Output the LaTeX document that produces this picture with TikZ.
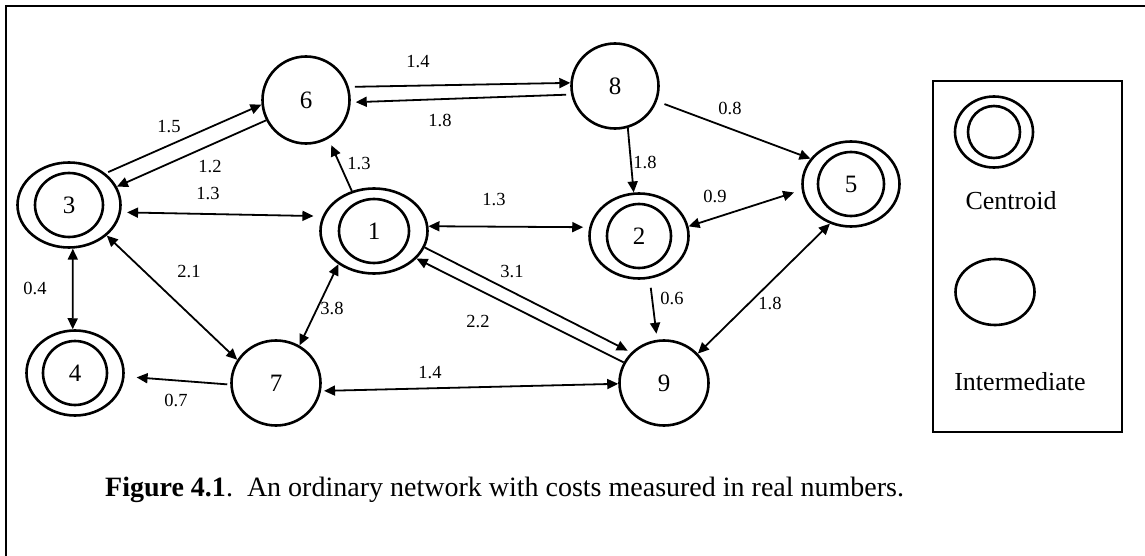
\documentclass[tikz,border=0pt]{standalone}
\usepackage{fontspec}
\setmainfont{Liberation Serif}
\usetikzlibrary{arrows.meta,shapes.geometric}
\tikzset{
  vert/.style={ellipse,draw,line width=2.6pt,inner sep=0pt,font=\fontsize{25}{29}\selectfont},
  cent/.style 2 args={vert,path picture={\draw[line width=2.6pt] (path picture bounding box.center) ellipse (#1pt and #2pt);}},
  arr/.style={line width=1.8pt,-{Triangle[length=11pt,width=10pt]}},
  darr/.style={line width=1.8pt,{Triangle[length=11pt,width=10pt]}-{Triangle[length=11pt,width=10pt]}},
  lab/.style={font=\fontsize{18.5}{20}\selectfont,inner sep=0pt},
  leg/.style={font=\fontsize{26}{30}\selectfont,inner sep=0pt},
  legbox/.style={draw,line width=2.6pt},
}
\begin{document}
\begin{tikzpicture}[x=1pt,y=-1pt]
  \useasboundingbox (0,0) rectangle (1145,556);
  \draw[legbox] (6,6) rectangle (1160,570);
  % centroids
  \node[cent={34}{32},minimum width=103pt,minimum height=85pt] (n3) at (69,205) {3};
  \node[cent={35}{32},minimum width=107pt,minimum height=85pt] (n1) at (374,231) {1};
  \node[cent={32}{32},minimum width=99pt,minimum height=85pt] (n2) at (639,236) {2};
  \node[cent={33}{32},minimum width=97pt,minimum height=85pt] (n5) at (851,184) {5};
  \node[cent={32}{32},minimum width=97pt,minimum height=85pt] (n4) at (75,373) {4};
  % intermediates
  \node[vert,minimum width=87pt,minimum height=87pt] (n6) at (306,100) {6};
  \node[vert,minimum width=87pt,minimum height=85pt] (n8) at (615,86) {8};
  \node[vert,minimum width=89pt,minimum height=85pt] (n7) at (276,383) {7};
  \node[vert,minimum width=89pt,minimum height=85pt] (n9) at (664,383) {9};
  % links
  \draw[arr,shorten <=3pt] (n3.41) -- (n6.186);
  \draw[arr] (n6.207) -- (n3.21);
  \draw[darr,shorten <=6pt,shorten >=9pt] (n3.-8) -- (n1.164);
  \draw[arr,shorten >=7pt] (n1.119) -- (n6.-60);
  \draw[arr,shorten <=6pt] (n6.17) -- (n8.176);
  \draw[arr,shorten <=5pt,shorten >=5pt] (n8.191) -- (n6.-3);
  \draw[arr,shorten <=8pt] (n8.-20) -- (n5.148);
  \draw[arr] (n8.-73) -- (n2.97);
  \draw[darr,shorten >=6pt] (n1.5) -- (n2.170);
  \draw[darr,shorten >=8pt] (n2.11) -- (n5.187);
  \draw[arr,shorten <=9pt,shorten >=6pt] (n2.-76) -- (n9.99);
  \draw[darr] (n5.242) -- (n9.41);
  \draw[arr,shorten >=4pt] (n1.-18) -- (n9.137);
  \draw[arr] (n9.153) -- (n1.-33);
  \draw[darr,shorten <=3pt] (n7.-10) -- (n9.181);
  \draw[darr] (n1.223) -- (n7.58);
  \draw[darr] (n3.-39) -- (n7.149);
  \draw[darr] (n3.-85) -- (n4.93);
  \draw[arr,shorten <=3pt,shorten >=12pt] (n7.182) -- (n4.-4);
  % costs
  \node[lab] (l36) at (169,127) {1.5};
  \node[lab] (l63) at (210,167) {1.2};
  \node[lab] (l31) at (208,194) {1.3};
  \node[lab] (l16) at (359,164) {1.3};
  \node[lab] (l68) at (418,62) {1.4};
  \node[lab] (l86) at (440,120) {1.8};
  \node[lab] (l85) at (730,108) {0.8};
  \node[lab] (l82) at (645,162) {1.8};
  \node[lab] (l12) at (494,200) {1.3};
  \node[lab] (l25) at (715,196) {0.9};
  \node[lab] (l29) at (672,298) {0.6};
  \node[lab] (l59) at (770,303) {1.8};
  \node[lab] (l19) at (512,272) {3.1};
  \node[lab] (l91) at (478,322) {2.2};
  \node[lab] (l79) at (430,373) {1.4};
  \node[lab] (l17) at (332,308) {3.8};
  \node[lab] (l37) at (189,272) {2.1};
  \node[lab] (l34) at (35,288) {0.4};
  \node[lab] (l74) at (176,400) {0.7};
  % legend
  \draw[legbox] (933,81) rectangle (1122,432);
  \node[cent={26}{26},minimum width=78pt,minimum height=71pt] (lc) at (994,132) {};
  \node[leg] (lct) at (1011,201) {Centroid};
  \node[vert,minimum width=79pt,minimum height=66pt] (li) at (995,292) {};
  \node[leg] (lit) at (1020,382) {Intermediate};
  \node[anchor=base west,inner sep=0pt,font=\fontsize{28}{32}\selectfont] (cap) at (105,496)
    {\textbf{Figure 4.1}.\ \ An ordinary network with costs measured in real numbers.};
\end{tikzpicture}
\end{document}
